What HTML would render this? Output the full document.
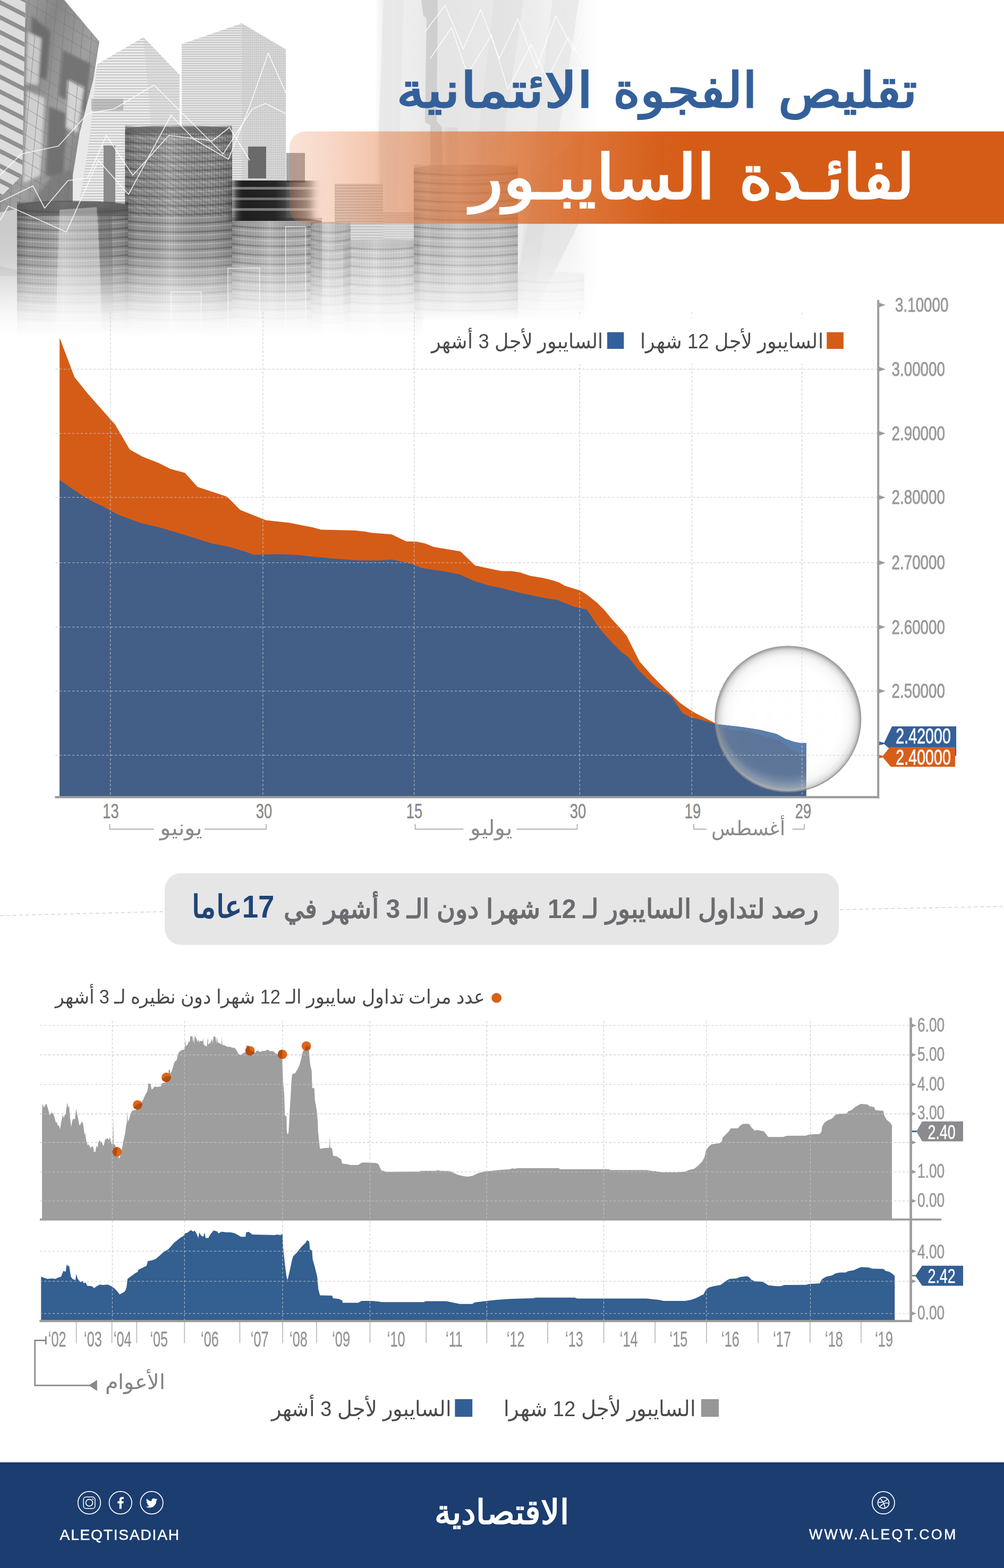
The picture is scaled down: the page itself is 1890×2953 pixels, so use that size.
<!DOCTYPE html>
<html lang="ar"><head><meta charset="utf-8"><title>تقليص الفجوة الائتمانية لفائدة السايبور</title>
<style>html,body{margin:0;padding:0;background:#fff}body{width:1890px;height:2953px;overflow:hidden;position:relative;font-family:"Liberation Sans",sans-serif}svg{position:absolute;left:0;top:0;display:block}svg text{font-family:"Liberation Sans",sans-serif}</style></head><body>
<svg width="1890" height="2953" viewBox="0 0 1890 2953">
<defs>
<linearGradient id="cyl" x1="0" x2="1" y1="0" y2="0"><stop offset="0" stop-color="#000" stop-opacity=".34"/><stop offset=".12" stop-color="#000" stop-opacity=".08"/><stop offset=".42" stop-color="#fff" stop-opacity=".28"/><stop offset=".8" stop-color="#000" stop-opacity=".05"/><stop offset="1" stop-color="#000" stop-opacity=".30"/></linearGradient>
<pattern id="hatch" width="5" height="8" patternUnits="userSpaceOnUse"><rect width="2" height="8" fill="#222"/></pattern>
<pattern id="hstripe" width="8" height="5.2" patternUnits="userSpaceOnUse"><rect width="8" height="1.5" fill="#8a8a8a"/></pattern>
<pattern id="hstripe2" width="8" height="4.4" patternUnits="userSpaceOnUse"><rect width="8" height="1.3" fill="#858585"/></pattern>
<pattern id="vfine" width="3.6" height="8" patternUnits="userSpaceOnUse"><rect width="1" height="8" fill="#999"/></pattern>
<pattern id="glassgrid" width="17" height="25" patternUnits="userSpaceOnUse" patternTransform="skewY(26) rotate(5)"><path d="M0 0 H17 M0 0 V25" stroke="#6f6f6f" stroke-width="1.4" fill="none"/></pattern>
<pattern id="louver" width="60" height="28" patternUnits="userSpaceOnUse" patternTransform="skewY(27)"><rect width="60" height="9" fill="#8c8c8c"/></pattern>
<pattern id="diag" width="9" height="9" patternUnits="userSpaceOnUse" patternTransform="rotate(28)"><rect width="9" height="2.2" fill="#3c3c3c"/></pattern>
<linearGradient id="fadeV" x1="0" x2="0" y1="0" y2="640" gradientUnits="userSpaceOnUse"><stop offset="0" stop-color="#fff"/><stop offset=".68" stop-color="#fff"/><stop offset=".75" stop-color="#fff" stop-opacity=".9"/><stop offset=".8125" stop-color="#fff" stop-opacity=".66"/><stop offset=".853" stop-color="#fff" stop-opacity=".46"/><stop offset=".89" stop-color="#fff" stop-opacity=".28"/><stop offset=".922" stop-color="#fff" stop-opacity=".15"/><stop offset=".955" stop-color="#fff" stop-opacity=".06"/><stop offset=".99" stop-color="#fff" stop-opacity="0"/></linearGradient>
<mask id="mPhoto" maskUnits="userSpaceOnUse" x="0" y="0" width="1200" height="660"><rect x="0" y="0" width="1200" height="650" fill="url(#fadeV)"/></mask>
<linearGradient id="towerH" x1="0" x2="1" y1="0" y2="0"><stop offset="0" stop-color="#efefef" stop-opacity="0"/><stop offset=".04" stop-color="#f0f0f0" stop-opacity=".95"/><stop offset=".2" stop-color="#ebebeb"/><stop offset=".3" stop-color="#e4e4e4"/><stop offset=".5" stop-color="#e8e8e8"/><stop offset=".7" stop-color="#ebebeb" stop-opacity=".9"/><stop offset=".88" stop-color="#f0f0f0" stop-opacity=".7"/><stop offset="1" stop-color="#f6f6f6" stop-opacity="0"/></linearGradient>
<linearGradient id="glass" x1="0" x2="1" y1="0" y2="1"><stop offset="0" stop-color="#acacac"/><stop offset=".3" stop-color="#868686"/><stop offset=".55" stop-color="#a0a0a0"/><stop offset=".8" stop-color="#828282"/><stop offset="1" stop-color="#989898"/></linearGradient>
<linearGradient id="bandH" x1="430" x2="625" y1="0" y2="0" gradientUnits="userSpaceOnUse"><stop offset="0" stop-color="#fff"/><stop offset=".45" stop-color="#fff" stop-opacity=".95"/><stop offset=".72" stop-color="#fff" stop-opacity=".55"/><stop offset="1" stop-color="#fff" stop-opacity=".2"/></linearGradient>
<mask id="mBand" maskUnits="userSpaceOnUse" x="400" y="320" width="260" height="120"><rect x="400" y="320" width="260" height="120" fill="url(#bandH)"/></mask>
<filter id="blurX" x="-20%" y="-10%" width="140%" height="120%"><feGaussianBlur stdDeviation="8 0.7"/></filter>
<filter id="b2" x="-10%" y="-10%" width="120%" height="120%"><feGaussianBlur stdDeviation="2.5"/></filter>
</defs>
<g id="photo" mask="url(#mPhoto)">
<rect x="705" y="0" width="425" height="640" fill="url(#towerH)"/>
<g opacity=".7"><path d="M793 0 L797 30 L803 34 L800 230 L810 236 L812 600 H838 L832 240 L822 228 L824 0Z" fill="#c6c6c6"/><path d="M838 240 L845 600 H870 L862 240Z" fill="#d8d8d8"/></g>
<path d="M713 240 L722 0 H760 L742 620 H716Z" fill="#e6e6e6" opacity=".7"/>
<path d="M930 0 L860 600 H900 L985 0Z" fill="#dedede" opacity=".5"/><path d="M1040 0 L965 590 H1000 L1090 0Z" fill="#e2e2e2" opacity=".55"/><path d="M1010 330 L1100 250 L1090 420 L1000 600 H960Z" fill="#d4d4d4" opacity=".45"/>
<g stroke="#fff" stroke-width="1.5" fill="none" opacity=".9"><path d="M800 60 L838 10 L872 92 L905 18 L940 110 L975 36 L1010 128 L1046 30 L1080 96 L1110 20"/><path d="M810 110 L850 52 L880 140 L925 66 L956 168 L1000 84 L1030 150 L1070 70 L1105 130"/></g>
<path d="M0 0 H121 L187 78 L137 400 L0 417 Z" fill="url(#glass)"/>
<g filter="url(#b2)" opacity=".9"><path d="M60 30 L95 60 L88 150 L56 140Z" fill="#6a6a6a"/><path d="M118 95 L170 120 L160 210 L110 180Z" fill="#707070"/><path d="M50 170 L84 185 L76 330 L44 345Z" fill="#d6d6d6"/><path d="M92 200 L128 215 L118 335 L86 330Z" fill="#6e6e6e"/><path d="M128 150 L158 165 L146 250 L124 240Z" fill="#dadada"/><path d="M52 60 L78 72 L72 160 L48 158Z" fill="#d0d0d0"/><path d="M100 330 L136 320 L132 395 L40 405Z" fill="#7c7c7c"/></g>
<path d="M0 0 H121 L187 78 L137 400 L0 417 Z" fill="url(#glassgrid)" opacity=".8"/>
<path d="M0 0 H48 L42 330 L0 372Z" fill="#dcdcdc"/><path d="M0 0 H48 L42 330 L0 372Z" fill="url(#louver)" opacity=".95"/>
<path d="M0 400 L40 392 L36 640 L0 640Z" fill="#cbcbcb"/><path d="M0 500 A60 12 0 0 0 36 508 L36 520 L0 520Z" fill="#b5b5b5" opacity=".7"/><path d="M137 330 L150 250 L183 121 L183 400 H137Z" fill="#e9e9e9"/>
<path d="M183 121 L270 70 L338 141 V405 H146 L170 250Z" fill="#ebebeb"/><path d="M183 121 L270 70 L338 141 V405 H146 L170 250Z" fill="url(#hstripe)" opacity=".5"/>
<path d="M270 70 L338 141 V405 H300 Z" fill="#cfcfcf" opacity=".5"/>
<rect x="195" y="274" width="22" height="130" fill="#8a8a8a"/><rect x="172" y="186" width="60" height="22" fill="#9a9a9a" opacity=".55"/>
<path d="M342 83 L455 44 L538 93 V420 H342Z" fill="#e6e6e6"/><path d="M342 83 L455 44 L538 93 V420 H342Z" fill="url(#hstripe2)" opacity=".5"/>
<path d="M455 44 L538 93 V420 H455Z" fill="#d4d4d4" opacity=".6"/><path d="M455 44 L538 93 V420 H455Z" fill="url(#vfine)" opacity=".3"/>
<rect x="467" y="276" width="34" height="60" fill="#6a6a6a"/><rect x="539" y="288" width="35" height="56" fill="#a6a6a6"/>
<path d="M630 346 H721 V470 H630Z" fill="#dcdcdc"/><path d="M630 346 H721 V470 H630Z" fill="url(#hstripe)" opacity=".45"/><path d="M721 400 H790 V470 H721Z" fill="#d9d9d9" opacity=".85"/><path d="M721 400 H790 V470 H721Z" fill="url(#hstripe2)" opacity=".3"/>
<g opacity="0.94"><path d="M235.5 244 A100.8 8 0 0 1 437 244 V640 H235.5 Z" fill="#979797"/><path d="M235.5 251.1 Q336.2 260.3 437 251.1M235.5 267.6 Q336.2 276.8 437 267.6M235.5 284.1 Q336.2 293.3 437 284.1M235.5 300.6 Q336.2 309.8 437 300.6M235.5 317.1 Q336.2 326.3 437 317.1M235.5 333.6 Q336.2 342.8 437 333.6M235.5 350.1 Q336.2 359.3 437 350.1M235.5 366.6 Q336.2 375.8 437 366.6M235.5 383.1 Q336.2 392.3 437 383.1M235.5 399.6 Q336.2 408.8 437 399.6M235.5 416.1 Q336.2 425.3 437 416.1M235.5 432.6 Q336.2 441.8 437 432.6M235.5 449.1 Q336.2 458.3 437 449.1M235.5 465.6 Q336.2 474.8 437 465.6M235.5 482.1 Q336.2 491.3 437 482.1M235.5 498.6 Q336.2 507.8 437 498.6M235.5 515.1 Q336.2 524.3 437 515.1M235.5 531.6 Q336.2 540.8 437 531.6M235.5 548.1 Q336.2 557.3 437 548.1M235.5 564.6 Q336.2 573.8 437 564.6M235.5 581.1 Q336.2 590.3 437 581.1M235.5 597.6 Q336.2 606.8 437 597.6M235.5 614.1 Q336.2 623.3 437 614.1M235.5 630.6 Q336.2 639.8 437 630.6" stroke="#5a5a5a" stroke-width="3.4" fill="none" opacity="0.62"/><path d="M235.5 257.6 Q336.2 266.8 437 257.6M235.5 274.1 Q336.2 283.3 437 274.1M235.5 290.6 Q336.2 299.8 437 290.6M235.5 307.1 Q336.2 316.3 437 307.1M235.5 323.6 Q336.2 332.8 437 323.6M235.5 340.1 Q336.2 349.3 437 340.1M235.5 356.6 Q336.2 365.8 437 356.6M235.5 373.1 Q336.2 382.3 437 373.1M235.5 389.6 Q336.2 398.8 437 389.6M235.5 406.1 Q336.2 415.3 437 406.1M235.5 422.6 Q336.2 431.8 437 422.6M235.5 439.1 Q336.2 448.3 437 439.1M235.5 455.6 Q336.2 464.8 437 455.6M235.5 472.1 Q336.2 481.3 437 472.1M235.5 488.6 Q336.2 497.8 437 488.6M235.5 505.1 Q336.2 514.3 437 505.1M235.5 521.6 Q336.2 530.8 437 521.6M235.5 538.1 Q336.2 547.3 437 538.1M235.5 554.6 Q336.2 563.8 437 554.6M235.5 571.1 Q336.2 580.3 437 571.1M235.5 587.6 Q336.2 596.8 437 587.6M235.5 604.1 Q336.2 613.3 437 604.1M235.5 620.6 Q336.2 629.8 437 620.6M235.5 637.1 Q336.2 646.3 437 637.1" stroke="#fff" stroke-width="2.2" fill="none" opacity=".30"/><rect x="235.5" y="236" width="201.5" height="404" fill="url(#cyl)" opacity="0.8"/><rect x="235.5" y="244" width="201.5" height="396" fill="url(#hatch)" opacity="0.1"/></g>
<rect x="236" y="240" width="200" height="168" fill="url(#diag)" opacity=".2"/><rect x="236" y="240" width="200" height="168" fill="url(#hatch)" opacity=".1"/><rect x="236" y="239" width="200" height="12" fill="#555" opacity=".55"/>
<g opacity="0.94"><path d="M32 388 A104.5 8 0 0 1 241 388 V640 H32 Z" fill="#979797"/><path d="M32 395.4 Q136.5 404.6 241 395.4M32 412.4 Q136.5 421.6 241 412.4M32 429.4 Q136.5 438.6 241 429.4M32 446.4 Q136.5 455.6 241 446.4M32 463.4 Q136.5 472.6 241 463.4M32 480.4 Q136.5 489.6 241 480.4M32 497.4 Q136.5 506.6 241 497.4M32 514.4 Q136.5 523.6 241 514.4M32 531.4 Q136.5 540.6 241 531.4M32 548.4 Q136.5 557.6 241 548.4M32 565.4 Q136.5 574.6 241 565.4M32 582.4 Q136.5 591.6 241 582.4M32 599.4 Q136.5 608.6 241 599.4M32 616.4 Q136.5 625.6 241 616.4M32 633.4 Q136.5 642.6 241 633.4" stroke="#5a5a5a" stroke-width="3.4" fill="none" opacity="0.62"/><path d="M32 401.9 Q136.5 411.1 241 401.9M32 418.9 Q136.5 428.1 241 418.9M32 435.9 Q136.5 445.1 241 435.9M32 452.9 Q136.5 462.1 241 452.9M32 469.9 Q136.5 479.1 241 469.9M32 486.9 Q136.5 496.1 241 486.9M32 503.9 Q136.5 513.1 241 503.9M32 520.9 Q136.5 530.1 241 520.9M32 537.9 Q136.5 547.1 241 537.9M32 554.9 Q136.5 564.1 241 554.9M32 571.9 Q136.5 581.1 241 571.9M32 588.9 Q136.5 598.1 241 588.9M32 605.9 Q136.5 615.1 241 605.9M32 622.9 Q136.5 632.1 241 622.9M32 639.9 Q136.5 649.1 241 639.9" stroke="#fff" stroke-width="2.2" fill="none" opacity=".30"/><rect x="32" y="380" width="209" height="260" fill="url(#cyl)" opacity="0.8"/><rect x="32" y="388" width="209" height="252" fill="url(#hatch)" opacity="0.1"/></g>
<path d="M32 386 A105 9 0 0 1 241 386 V407 H32Z" fill="#4a4a4a" opacity=".62"/><path d="M112 395 L182 390 L196 640 H104Z" fill="#e4e4e4" opacity=".42"/><path d="M186 392 H210 L214 620 H190Z" fill="#555" opacity=".4"/>
<g opacity="0.93"><path d="M437 418 A84.5 8 0 0 1 606 418 V640 H437 Z" fill="#a4a4a4"/><path d="M437 425.4 Q521.5 434.6 606 425.4M437 442.4 Q521.5 451.6 606 442.4M437 459.4 Q521.5 468.6 606 459.4M437 476.4 Q521.5 485.6 606 476.4M437 493.4 Q521.5 502.6 606 493.4M437 510.4 Q521.5 519.6 606 510.4M437 527.4 Q521.5 536.6 606 527.4M437 544.4 Q521.5 553.6 606 544.4M437 561.4 Q521.5 570.6 606 561.4M437 578.4 Q521.5 587.6 606 578.4M437 595.4 Q521.5 604.6 606 595.4M437 612.4 Q521.5 621.6 606 612.4M437 629.4 Q521.5 638.6 606 629.4" stroke="#5a5a5a" stroke-width="3.4" fill="none" opacity="0.58"/><path d="M437 431.9 Q521.5 441.1 606 431.9M437 448.9 Q521.5 458.1 606 448.9M437 465.9 Q521.5 475.1 606 465.9M437 482.9 Q521.5 492.1 606 482.9M437 499.9 Q521.5 509.1 606 499.9M437 516.9 Q521.5 526.1 606 516.9M437 533.9 Q521.5 543.1 606 533.9M437 550.9 Q521.5 560.1 606 550.9M437 567.9 Q521.5 577.1 606 567.9M437 584.9 Q521.5 594.1 606 584.9M437 601.9 Q521.5 611.1 606 601.9M437 618.9 Q521.5 628.1 606 618.9M437 635.9 Q521.5 645.1 606 635.9" stroke="#fff" stroke-width="2.2" fill="none" opacity=".30"/><rect x="437" y="410" width="169" height="230" fill="url(#cyl)" opacity="0.7"/><rect x="437" y="418" width="169" height="222" fill="url(#hatch)" opacity="0.08"/></g>
<g filter="url(#blurX)" mask="url(#mBand)"><rect x="440" y="340" width="150" height="76" fill="#1f1f1f"/><rect x="440" y="352" width="150" height="5" fill="#777"/><rect x="440" y="372" width="150" height="5" fill="#6a6a6a"/><rect x="440" y="392" width="150" height="5" fill="#777"/></g>
<g opacity="0.85"><path d="M646.5 458 A71.8 8 0 0 1 790 458 V640 H646.5 Z" fill="#c4c4c4"/><path d="M646.5 465.4 Q718.2 474.6 790 465.4M646.5 482.4 Q718.2 491.6 790 482.4M646.5 499.4 Q718.2 508.6 790 499.4M646.5 516.4 Q718.2 525.6 790 516.4M646.5 533.4 Q718.2 542.6 790 533.4M646.5 550.4 Q718.2 559.6 790 550.4M646.5 567.4 Q718.2 576.6 790 567.4M646.5 584.4 Q718.2 593.6 790 584.4M646.5 601.4 Q718.2 610.6 790 601.4M646.5 618.4 Q718.2 627.6 790 618.4M646.5 635.4 Q718.2 644.6 790 635.4" stroke="#808080" stroke-width="3.4" fill="none" opacity="0.5"/><path d="M646.5 471.9 Q718.2 481.1 790 471.9M646.5 488.9 Q718.2 498.1 790 488.9M646.5 505.9 Q718.2 515.1 790 505.9M646.5 522.9 Q718.2 532.1 790 522.9M646.5 539.9 Q718.2 549.1 790 539.9M646.5 556.9 Q718.2 566.1 790 556.9M646.5 573.9 Q718.2 583.1 790 573.9M646.5 590.9 Q718.2 600.1 790 590.9M646.5 607.9 Q718.2 617.1 790 607.9M646.5 624.9 Q718.2 634.1 790 624.9M646.5 641.9 Q718.2 651.1 790 641.9" stroke="#fff" stroke-width="2.2" fill="none" opacity=".30"/><rect x="646.5" y="450" width="143.5" height="190" fill="url(#cyl)" opacity="0.5"/><rect x="646.5" y="458" width="143.5" height="182" fill="url(#hatch)" opacity="0.06"/></g>
<g opacity="0.8"><path d="M779 318 A98 8 0 0 1 975 318 V640 H779 Z" fill="#c0c0c0"/><path d="M779 325.4 Q877 334.6 975 325.4M779 342.4 Q877 351.6 975 342.4M779 359.4 Q877 368.6 975 359.4M779 376.4 Q877 385.6 975 376.4M779 393.4 Q877 402.6 975 393.4M779 410.4 Q877 419.6 975 410.4M779 427.4 Q877 436.6 975 427.4M779 444.4 Q877 453.6 975 444.4M779 461.4 Q877 470.6 975 461.4M779 478.4 Q877 487.6 975 478.4M779 495.4 Q877 504.6 975 495.4M779 512.4 Q877 521.6 975 512.4M779 529.4 Q877 538.6 975 529.4M779 546.4 Q877 555.6 975 546.4M779 563.4 Q877 572.6 975 563.4M779 580.4 Q877 589.6 975 580.4M779 597.4 Q877 606.6 975 597.4M779 614.4 Q877 623.6 975 614.4M779 631.4 Q877 640.6 975 631.4" stroke="#707070" stroke-width="3.4" fill="none" opacity="0.5"/><path d="M779 331.9 Q877 341.1 975 331.9M779 348.9 Q877 358.1 975 348.9M779 365.9 Q877 375.1 975 365.9M779 382.9 Q877 392.1 975 382.9M779 399.9 Q877 409.1 975 399.9M779 416.9 Q877 426.1 975 416.9M779 433.9 Q877 443.1 975 433.9M779 450.9 Q877 460.1 975 450.9M779 467.9 Q877 477.1 975 467.9M779 484.9 Q877 494.1 975 484.9M779 501.9 Q877 511.1 975 501.9M779 518.9 Q877 528.1 975 518.9M779 535.9 Q877 545.1 975 535.9M779 552.9 Q877 562.1 975 552.9M779 569.9 Q877 579.1 975 569.9M779 586.9 Q877 596.1 975 586.9M779 603.9 Q877 613.1 975 603.9M779 620.9 Q877 630.1 975 620.9M779 637.9 Q877 647.1 975 637.9" stroke="#fff" stroke-width="2.2" fill="none" opacity=".30"/><rect x="779" y="310" width="196" height="330" fill="url(#cyl)" opacity="0.55"/><rect x="779" y="318" width="196" height="322" fill="url(#hatch)" opacity="0.06"/></g>
<g opacity="0.8"><path d="M585 426 A37.5 8 0 0 1 660 426 V640 H585 Z" fill="#bcbcbc"/><path d="M585 433.4 Q622.5 442.6 660 433.4M585 450.4 Q622.5 459.6 660 450.4M585 467.4 Q622.5 476.6 660 467.4M585 484.4 Q622.5 493.6 660 484.4M585 501.4 Q622.5 510.6 660 501.4M585 518.4 Q622.5 527.6 660 518.4M585 535.4 Q622.5 544.6 660 535.4M585 552.4 Q622.5 561.6 660 552.4M585 569.4 Q622.5 578.6 660 569.4M585 586.4 Q622.5 595.6 660 586.4M585 603.4 Q622.5 612.6 660 603.4M585 620.4 Q622.5 629.6 660 620.4M585 637.4 Q622.5 646.6 660 637.4" stroke="#808080" stroke-width="3.4" fill="none" opacity="0.5"/><path d="M585 439.9 Q622.5 449.1 660 439.9M585 456.9 Q622.5 466.1 660 456.9M585 473.9 Q622.5 483.1 660 473.9M585 490.9 Q622.5 500.1 660 490.9M585 507.9 Q622.5 517.1 660 507.9M585 524.9 Q622.5 534.1 660 524.9M585 541.9 Q622.5 551.1 660 541.9M585 558.9 Q622.5 568.1 660 558.9M585 575.9 Q622.5 585.1 660 575.9M585 592.9 Q622.5 602.1 660 592.9M585 609.9 Q622.5 619.1 660 609.9M585 626.9 Q622.5 636.1 660 626.9M585 643.9 Q622.5 653.1 660 643.9" stroke="#fff" stroke-width="2.2" fill="none" opacity=".30"/><rect x="585" y="418" width="75" height="222" fill="url(#cyl)" opacity="0.45"/><rect x="585" y="426" width="75" height="214" fill="url(#hatch)" opacity="0.05"/></g>
<g opacity="0.4"><path d="M975 520 A62.5 8 0 0 1 1100 520 V640 H975 Z" fill="#e2e2e2"/><path d="M975 527.4 Q1037.5 536.6 1100 527.4M975 544.4 Q1037.5 553.6 1100 544.4M975 561.4 Q1037.5 570.6 1100 561.4M975 578.4 Q1037.5 587.6 1100 578.4M975 595.4 Q1037.5 604.6 1100 595.4M975 612.4 Q1037.5 621.6 1100 612.4M975 629.4 Q1037.5 638.6 1100 629.4" stroke="#b0b0b0" stroke-width="3.4" fill="none" opacity="0.5"/><path d="M975 533.9 Q1037.5 543.1 1100 533.9M975 550.9 Q1037.5 560.1 1100 550.9M975 567.9 Q1037.5 577.1 1100 567.9M975 584.9 Q1037.5 594.1 1100 584.9M975 601.9 Q1037.5 611.1 1100 601.9M975 618.9 Q1037.5 628.1 1100 618.9M975 635.9 Q1037.5 645.1 1100 635.9" stroke="#fff" stroke-width="2.2" fill="none" opacity=".30"/><rect x="975" y="512" width="125" height="128" fill="url(#cyl)" opacity="0.3"/></g>
<g stroke="#fff" stroke-width="1.3" fill="#fff" fill-opacity=".14" opacity=".8"><rect x="322" y="550" width="57" height="100"/><rect x="429" y="505" width="60" height="150"/><rect x="537.5" y="427" width="38" height="230"/></g>
<g stroke="#fff" stroke-width="1.7" fill="none" stroke-linejoin="round" opacity=".85"><path d="M0 415 L16 388 L125 437 L185 302 L242 366 L322 217 L365 262 L430 300 L470 200 L505 100 L538 175"/><path d="M0 330 L40 290 L110 275 L165 214 L215 205 L290 160 L330 200 L420 290 L475 205 L500 195 L540 215"/><path d="M0 380 L62 350 L84 392 L128 340 L165 335 L200 255 L250 330 L318 255 L400 265 L432 240 L470 302"/></g>
</g>
<defs><linearGradient id="ban" x1="545" x2="1300" y1="0" y2="0" gradientUnits="userSpaceOnUse"><stop offset="0" stop-color="#E8763A" stop-opacity=".20"/><stop offset=".12" stop-color="#E67A40" stop-opacity=".32"/><stop offset=".40" stop-color="#DD6E30" stop-opacity=".62"/><stop offset=".70" stop-color="#D9631F" stop-opacity=".86"/><stop offset=".92" stop-color="#D55C17" stop-opacity=".98"/><stop offset="1" stop-color="#D55C17"/></linearGradient></defs>
<path d="M575 247.5 H1890 V421.5 H575 A30 30 0 0 1 545 391.5 V277.5 A30 30 0 0 1 575 247.5Z" fill="url(#ban)"/>
<text x="1596" y="202.2" font-size="92" font-weight="700" fill="#34609A" text-anchor="middle" direction="rtl" textLength="263" lengthAdjust="spacingAndGlyphs">تقليص</text>
<text x="1289.6" y="202.2" font-size="92" font-weight="700" fill="#34609A" text-anchor="middle" direction="rtl" textLength="272" lengthAdjust="spacingAndGlyphs">الفجوة</text>
<text x="931.1" y="202.2" font-size="92" font-weight="700" fill="#34609A" text-anchor="middle" direction="rtl" textLength="371" lengthAdjust="spacingAndGlyphs">الائتمانية</text>
<text x="1556.4" y="374.3" font-size="116" font-weight="700" fill="#fff" text-anchor="middle" direction="rtl" textLength="331" lengthAdjust="spacingAndGlyphs">لفائـدة</text>
<text x="1115.7" y="374.3" font-size="116" font-weight="700" fill="#fff" text-anchor="middle" direction="rtl" textLength="460" lengthAdjust="spacingAndGlyphs">السايبـور</text>
<g id="chart1">
<polygon fill="#D55C17" points="112.2,636.2 140.3,710.3 164.7,740.8 216.6,799.5 244.2,846.6 268.6,860.3 297.8,871.6 320.5,883 348.1,890.5 371.8,917.1 427.7,935.6 452,960.3 500.7,979.7 544.5,984.6 590,993.4 603.8,997.4 667.1,999 688.2,1001.3 699.6,1003.6 736.9,1006.2 764.5,1019.5 784,1020.1 800.3,1023.4 816.5,1029.9 866.8,1038.6 894.4,1064.9 926.9,1072.1 944.7,1075.6 962.6,1075.6 978.8,1077.9 998.3,1084.4 1021,1088.3 1040.5,1092.9 1051.9,1096.8 1060,1101.3 1062.7,1103.1 1079,1107.9 1093.6,1112.8 1104.9,1119.9 1124.4,1135.5 1137.4,1148.5 1153.6,1168 1166.6,1181.9 1179.6,1197.2 1192.6,1223.2 1204,1245.9 1228.3,1273.5 1247.8,1293 1264,1308.6 1280.3,1323.8 1296.5,1335.2 1309.5,1343.3 1325.7,1351.4 1345.2,1361.2 1346.8,1363.4 1376.8,1499.5 112.2,1499.5"/>
<polygon fill="#435F88" points="112.2,904.1 135.5,920.3 154.9,933.3 177.7,946.3 193.9,953.8 219.9,968.1 242.6,977.1 268.6,985.9 297.8,992.4 349.7,1008 401.7,1024.2 430.9,1029.7 456.9,1037.2 478,1044.7 528.3,1043.7 560.8,1045.3 590,1048.6 634.7,1052.6 673.6,1055.2 712.6,1055.5 738.6,1053.9 774.3,1061.4 793.8,1069.8 839.2,1076.6 865.2,1081.8 891.2,1093.8 920.4,1102.6 946.4,1108.1 978.8,1116.6 1014.5,1124 1030.8,1127.3 1050.3,1129.9 1060,1134.4 1082.2,1143 1104.9,1147.9 1124.4,1177.7 1137.4,1194 1153.6,1211.8 1169.9,1228.1 1182.9,1237.8 1202.3,1262.1 1218.6,1278.4 1234.8,1293 1247.8,1301.1 1264,1311.8 1285.1,1343.3 1299.7,1350.8 1319.2,1355.6 1346.8,1363.4 1397.1,1369.3 1429.6,1374.2 1462.1,1382.3 1478.3,1391.4 1494.5,1396.9 1507.5,1399.5 1517.9,1399.2 1517.9,1500.5 112.2,1500.5"/>
<polygon fill="#41699F" points="1346.8,1363.4 1397.1,1369.3 1429.6,1374.2 1462.1,1382.3 1478.3,1391.4 1494.5,1396.9 1507.5,1399.5 1517.9,1399.2 1517.9,1418 1509.2,1419.6 1494.5,1414.7 1484.8,1408.2 1468.6,1395.3 1439.4,1387.1 1413.4,1379 1397.1,1375.8 1377.7,1375.8 1346.8,1363.4"/>
<g stroke="#c6c6c6" stroke-width="1.05" stroke-dasharray="4.4 3.6" opacity=".95" fill="none">
<path d="M104 695.2 H1651"/>
<path d="M104 816.2 H1651"/>
<path d="M104 936.7 H1651"/>
<path d="M104 1059.8 H1651"/>
<path d="M104 1180.9 H1651"/>
<path d="M104 1301.4 H1651"/>
<path d="M104 1422.2 H1651"/>
<path d="M207.9 588 V1499"/>
<path d="M494.9 588 V1499"/>
<path d="M779.8 588 V1499"/>
<path d="M1091.3 588 V1499"/>
<path d="M1302.3 588 V1499"/>
<path d="M1509.8 588 V1499"/>
</g>
<defs><linearGradient id="lgbox" x1="0" x2="0" y1="586" y2="606" gradientUnits="userSpaceOnUse"><stop offset="0" stop-color="#fff" stop-opacity="0"/><stop offset="1" stop-color="#fff"/></linearGradient></defs><rect x="796" y="586" width="806" height="22" fill="url(#lgbox)"/><rect x="796" y="606" width="806" height="79" fill="#fff"/>
<defs><radialGradient id="lens" cx="50%" cy="50%" r="50%"><stop offset="0" stop-color="#fff" stop-opacity=".14"/><stop offset=".70" stop-color="#fff" stop-opacity=".14"/><stop offset=".86" stop-color="#d8d8d8" stop-opacity=".2"/><stop offset=".94" stop-color="#a8a8a8" stop-opacity=".4"/><stop offset=".985" stop-color="#8c8c8c" stop-opacity=".8"/><stop offset="1" stop-color="#8a8a8a" stop-opacity=".9"/></radialGradient></defs>
<defs><radialGradient id="lens2" cx="50%" cy="40%" r="61%"><stop offset="0" stop-color="#fff" stop-opacity="0"/><stop offset=".8" stop-color="#fff" stop-opacity="0"/><stop offset=".93" stop-color="#fff" stop-opacity=".22"/><stop offset="1" stop-color="#fff" stop-opacity=".42"/></radialGradient></defs>
<circle cx="1483.4" cy="1354.2" r="138" fill="url(#lens)"/><circle cx="1483.4" cy="1354.2" r="135.5" fill="url(#lens2)"/>
<rect x="1651.2" y="565" width="4" height="938.5" fill="#9c9c9c"/>
<rect x="103.5" y="1499.2" width="1551.7" height="4.2" fill="#9c9c9c"/>
<path d="M1655 691 l12 4.2 l-12 4.2z" fill="#9c9c9c"/>
<path d="M1655 812 l12 4.2 l-12 4.2z" fill="#9c9c9c"/>
<path d="M1655 932.5 l12 4.2 l-12 4.2z" fill="#9c9c9c"/>
<path d="M1655 1055.6 l12 4.2 l-12 4.2z" fill="#9c9c9c"/>
<path d="M1655 1176.7 l12 4.2 l-12 4.2z" fill="#9c9c9c"/>
<path d="M1655 1297.2 l12 4.2 l-12 4.2z" fill="#9c9c9c"/>
<path d="M1655 570 l12 4.2 l-12 4.2z" fill="#9c9c9c"/>
<text transform="translate(1678.5,707.8) scale(0.742,1)" font-size="37.5" fill="#9a9a9a" stroke="#9a9a9a" stroke-width="0.9" text-anchor="start" font-weight="400" letter-spacing="0">3.00000</text>
<text transform="translate(1678.5,828.8) scale(0.742,1)" font-size="37.5" fill="#9a9a9a" stroke="#9a9a9a" stroke-width="0.9" text-anchor="start" font-weight="400" letter-spacing="0">2.90000</text>
<text transform="translate(1678.5,949.3) scale(0.742,1)" font-size="37.5" fill="#9a9a9a" stroke="#9a9a9a" stroke-width="0.9" text-anchor="start" font-weight="400" letter-spacing="0">2.80000</text>
<text transform="translate(1678.5,1072.4) scale(0.742,1)" font-size="37.5" fill="#9a9a9a" stroke="#9a9a9a" stroke-width="0.9" text-anchor="start" font-weight="400" letter-spacing="0">2.70000</text>
<text transform="translate(1678.5,1193.5) scale(0.742,1)" font-size="37.5" fill="#9a9a9a" stroke="#9a9a9a" stroke-width="0.9" text-anchor="start" font-weight="400" letter-spacing="0">2.60000</text>
<text transform="translate(1678.5,1314) scale(0.742,1)" font-size="37.5" fill="#9a9a9a" stroke="#9a9a9a" stroke-width="0.9" text-anchor="start" font-weight="400" letter-spacing="0">2.50000</text>
<text transform="translate(1685,586.8) scale(0.742,1)" font-size="37.5" fill="#9a9a9a" stroke="#9a9a9a" stroke-width="0.9" text-anchor="start" font-weight="400" letter-spacing="0">3.10000</text>
<path fill="#34609A" d="M1679.2 1368.1 H1800.1 V1423.6 H1690 L1664.3 1401.2 L1655.2 1403.4 V1396.6 L1664.3 1399 Z"/>
<path fill="#D85E18" d="M1675.1 1406.9 H1798 V1443.9 H1676.8 L1661.9 1426.2 L1655.2 1427.9 V1421.7 L1661.9 1423.6 Z"/>
<text transform="translate(1686.3,1400.2) scale(0.708,1)" font-size="40.5" fill="#fff" stroke="#fff" stroke-width="0.75" text-anchor="start" font-weight="400" letter-spacing="0">2.42000</text>
<text transform="translate(1686.3,1440) scale(0.708,1)" font-size="40.5" fill="#fff" stroke="#fff" stroke-width="0.75" text-anchor="start" font-weight="400" letter-spacing="0">2.40000</text>
<text transform="translate(208.5,1541) scale(0.7,1)" font-size="39" fill="#8a8a8a" stroke="#8a8a8a" stroke-width="0.55" text-anchor="middle" font-weight="400" letter-spacing="0">13</text>
<text transform="translate(497,1541) scale(0.7,1)" font-size="39" fill="#8a8a8a" stroke="#8a8a8a" stroke-width="0.55" text-anchor="middle" font-weight="400" letter-spacing="0">30</text>
<text transform="translate(780,1541) scale(0.7,1)" font-size="39" fill="#8a8a8a" stroke="#8a8a8a" stroke-width="0.55" text-anchor="middle" font-weight="400" letter-spacing="0">15</text>
<text transform="translate(1088,1541) scale(0.7,1)" font-size="39" fill="#8a8a8a" stroke="#8a8a8a" stroke-width="0.55" text-anchor="middle" font-weight="400" letter-spacing="0">30</text>
<text transform="translate(1304,1541) scale(0.7,1)" font-size="39" fill="#8a8a8a" stroke="#8a8a8a" stroke-width="0.55" text-anchor="middle" font-weight="400" letter-spacing="0">19</text>
<text transform="translate(1512,1541) scale(0.7,1)" font-size="39" fill="#8a8a8a" stroke="#8a8a8a" stroke-width="0.55" text-anchor="middle" font-weight="400" letter-spacing="0">29</text>
<g stroke="#9a9a9a" stroke-width="1.4" fill="none">
<path d="M206.5 1552 V1561.5 H290 M385 1561.5 H501 V1552"/>
<path d="M781.5 1552 V1561.5 H872.5 M972.5 1561.5 H1086.5 V1552"/>
<path d="M1306 1552 V1561.5 H1330 M1491.5 1561.5 H1514 V1552"/>
</g>
<rect x="1556.3" y="625.6" width="31.6" height="31.4" fill="#D55C17"/><rect x="1143" y="625.6" width="31.4" height="31.4" fill="#34609A"/>
<text x="1377.5" y="655.6" font-size="39" fill="#4a4a4a" text-anchor="middle" direction="rtl" textLength="345" lengthAdjust="spacingAndGlyphs">السايبور لأجل 12 شهرا</text>
<text x="973.8" y="655.6" font-size="39" fill="#4a4a4a" text-anchor="middle" direction="rtl" textLength="324" lengthAdjust="spacingAndGlyphs">السايبور لأجل 3 أشهر</text>
<text x="341" y="1573" font-size="40" fill="#8a8a8a" text-anchor="middle" direction="rtl" textLength="80" lengthAdjust="spacingAndGlyphs">يونيو</text>
<text x="924.5" y="1573" font-size="40" fill="#8a8a8a" text-anchor="middle" direction="rtl" textLength="79" lengthAdjust="spacingAndGlyphs">يوليو</text>
<text x="1408.8" y="1573" font-size="38" fill="#8a8a8a" text-anchor="middle" direction="rtl" textLength="139" lengthAdjust="spacingAndGlyphs">أغسطس</text>
</g>
<g id="pill">
<g stroke="#cfcfcf" stroke-width="1.3" stroke-dasharray="7 5" fill="none"><path d="M0 1724.5 L308 1716.8"/><path d="M1581 1713 L1890 1707"/></g>
<rect x="310" y="1644.5" width="1269" height="135" rx="31" fill="#E6E6E7"/>
<text x="1037.2" y="1728.5" font-size="50" font-weight="700" fill="#6B6B70" text-anchor="middle" direction="rtl" textLength="1007" lengthAdjust="spacingAndGlyphs">رصد لتداول السايبور لـ 12 شهرا دون الـ 3 أشهر في</text>
<text x="438.5" y="1728" font-size="59" font-weight="700" fill="#1F4477" text-anchor="middle" direction="rtl" textLength="156" lengthAdjust="spacingAndGlyphs">17عاما</text>
</g>
<g id="chart2">
<polygon fill="#9E9E9E" points="79.1,2105.2 79.6,2082.4 80.5,2079.8 82.6,2085.9 84.9,2081.5 87.5,2078.5 90.2,2087.7 93.7,2100.8 95.4,2097.3 97.2,2095 99.8,2097.3 101.6,2100.8 104.2,2110.5 105.6,2114.8 106.8,2112.2 108.6,2119.2 111.2,2120.1 113,2127.1 114.7,2115.7 116.5,2106.9 118.2,2099.1 120,2106.1 121.7,2099.9 123.5,2098.2 125.2,2085.9 126.5,2076.6 128.2,2085.9 130,2082.1 131.7,2103.4 134,2122.7 135.7,2112.2 137.5,2106.9 141,2107.8 143.3,2088.5 145.4,2098.2 148,2112.2 149.8,2120.1 152.4,2115.7 153.8,2113.1 155.6,2113.6 157.1,2121 159.4,2138.5 160.3,2131.5 161.2,2140.3 162.9,2150.8 165.6,2157.8 166.4,2154.3 169.1,2159.5 170.8,2162.2 173.4,2158.7 175.2,2159.5 176.9,2169.2 179.6,2169.2 181.3,2159.5 182.6,2157.8 184,2162.2 184.8,2152.5 186.6,2149 187.8,2147.3 189.2,2150.3 191.9,2150.8 193.6,2156.9 195.4,2157.8 197.1,2149 198.9,2144.6 200.6,2145.5 202.4,2142.9 204.6,2147.3 206.8,2141.7 208.5,2149 210.3,2154.3 212.4,2154.3 213.2,2101.7 214.1,2155.2 216.4,2155.7 218.1,2160.4 220.8,2168.3 224.3,2182.3 226,2178 228.7,2168.3 230.4,2159.5 233.1,2145.5 235.7,2133.2 237.4,2119.2 238.7,2114.8 239.5,2091.2 240.4,2112.2 242.7,2108.7 245.3,2099.9 247.1,2094.7 248.8,2092 252.3,2091.2 255.8,2090.3 267.2,2075.4 269.9,2070.1 271.6,2065.7 274.3,2060.5 276.9,2056.1 278.3,2050.8 279,2039.4 280.4,2041.2 283,2040.7 284.2,2045.6 285.3,2051.7 287.4,2050.8 290,2047.3 291.8,2045.9 294.4,2047 303.2,2045.9 304.1,2041.2 306.7,2039.4 311.9,2038.6 317.2,2022.8 317.6,2014.9 319.8,2014.4 320.7,2021.9 323.3,2017.5 326,2008.8 327.7,2001.8 329.1,2000 330,1998.4 332,1997.4 335,1986.4 337,1981.3 339.1,1980.3 342.1,1977.3 347.1,1976.7 348.1,1973.3 349.5,1956.2 350.1,1970.3 353.1,1967.2 355.2,1961.2 357.2,1962.2 358.2,1951.7 362.2,1951.7 363.2,1964.2 363.8,1950.1 365.2,1966.2 366.8,1950.1 370.3,1957.2 372.3,1962.2 373.9,1957.2 375.3,1964.2 376.3,1960.2 381.3,1961.2 382.3,1954.2 383.3,1967.2 386.4,1969.3 389.4,1971.3 391.4,1951.7 392,1967.2 396.4,1963.2 399.4,1956.2 400.5,1966.2 401.9,1951.7 405.5,1952.5 407.5,1965.2 408.5,1952.1 409.9,1963.2 414.5,1965.2 417,1967.2 417.6,1952.1 418.6,1968.2 422.6,1968.6 427.6,1971.3 434.7,1971.7 436.7,1973.3 441.7,1973.3 444.7,1977.3 448.8,1984.4 451.8,1986.4 454.8,1986 458.8,1982.7 462.9,1982.3 463.5,1969.3 467.9,1968.6 468.9,1973.3 470.9,1978.9 480,1982.7 484,1978.3 488,1980.3 491,1981.3 493.1,1979.3 499.1,1979.3 502.1,1977.3 505.1,1977.3 507.1,1979.3 515.2,1979.7 517.2,1982.7 521.2,1984.8 523.2,1987.4 531.3,1996.4 531.9,2014.5 533.3,2042.7 534.9,2058.8 535.7,2079 536.3,2101.1 539.4,2102.1 539.8,2130.1 540.6,2135.3 542.6,2135.3 543.4,2130.1 544.4,2111.2 545.4,2091 547.4,2060.8 548.4,2039.7 549.8,2024.6 551.4,2022.2 555.5,2021.6 559.5,2014.5 563.5,2006.5 566.5,1996.4 568.5,1986.4 570.6,1979.3 573.6,1977.3 581.6,1977.9 582.6,1990.4 583.6,2002.5 585.2,2010.5 586.7,2016.6 587.7,2048.8 591.7,2049.8 592.7,2070.9 594.7,2082 596.7,2095.1 598.1,2111.2 598.7,2130.1 602.3,2163.6 610,2162.3 619.9,2161.4 620.7,2138.7 621.6,2161.4 625,2162.3 627.1,2176.4 633.6,2177.7 642.1,2182.9 644.3,2191.4 652.9,2192.3 659.3,2194 674.3,2194 680.7,2189.7 687.1,2189.3 700,2190.1 707.1,2190.1 712.3,2192.3 717.9,2204.3 728.6,2206.9 788.6,2206.4 792.9,2205.1 818.6,2205.1 825,2203.9 829.3,2205.1 846.4,2205.6 855,2209.4 863.6,2212.9 872.1,2215 880.7,2215.9 889.3,2214.6 900,2209.4 912.9,2206 925.7,2205.1 938.6,2203.4 960,2202.1 965.1,2200 966.9,2201.3 975,2200 1052.1,2200 1054.3,2202.1 1146.4,2202.1 1148.6,2203.4 1217.1,2203.4 1225.7,2205.1 1236.4,2206 1245,2207.7 1275,2207.7 1290,2206.4 1296.4,2203.4 1307.1,2200.9 1313.6,2195.7 1320,2189.3 1322.1,2187.1 1326.4,2178.6 1328.6,2167.9 1332.9,2160.6 1339.3,2155 1354.3,2152.9 1358.6,2149.4 1360.7,2142.1 1367.1,2135.7 1371.4,2131.4 1375.7,2125 1388.6,2125 1395,2118.6 1399.3,2116.4 1410,2116.4 1414.3,2122.9 1420.7,2129.3 1425,2128 1437.9,2130.6 1446.4,2141.3 1474.3,2141.3 1480.7,2139.1 1517.1,2138.7 1523.6,2136.6 1542.9,2135.7 1546.3,2131.4 1548,2120.7 1551.4,2115.1 1557.9,2110 1566.4,2106.6 1572.9,2099.3 1579.3,2098 1594.3,2097.1 1596.4,2092.9 1602.9,2090.7 1609.3,2085.1 1620,2079.1 1632.9,2080 1637.1,2083.4 1645.7,2085.1 1647.9,2090.7 1662.9,2092 1665,2101.4 1669.3,2109.1 1675.7,2114.3 1679.1,2119.4 1679.1,2295.5 79.1,2295.5"/>
<polygon fill="#335F91" points="77.3,2404.3 82.9,2406.4 89.3,2408.6 97.9,2407.7 104.3,2408.6 108.6,2406.4 115,2404.3 119.3,2393.6 123.6,2394.9 125.7,2380.7 127.9,2385 130,2382.9 133.4,2404.3 136.4,2408.6 142,2410.7 143.7,2399.1 146.3,2408.6 152.3,2415 154.9,2412 157.9,2417.1 160.9,2415 164.3,2421.4 172.9,2422.3 177.1,2425.7 183.6,2421.4 187.9,2419.3 194.3,2420.1 202.9,2419.3 209.3,2422.3 215.7,2426.6 222.1,2433.4 225.1,2437.7 230.7,2435.1 235,2432.1 238,2425.7 240.1,2408.6 245.7,2404.3 254.3,2397.9 259.4,2394.9 260.3,2391.4 269.3,2387.1 275.7,2384.1 278.3,2375.1 286.4,2373.4 292.9,2370.9 299.3,2365.7 307.9,2358 316.4,2352.9 320.7,2348.6 327.1,2340.9 333.6,2335.7 340,2330.6 345.1,2328 347.7,2322.9 352.9,2321.6 359.3,2316.4 363.6,2319.4 366.6,2317.7 370,2322.9 373.4,2331.4 375.1,2320.7 378.6,2327.1 382.9,2329.3 385,2320.7 387.1,2331.4 392.3,2331.4 395.7,2325 402.1,2317.3 406.4,2318.6 409.4,2319.4 411.1,2322.9 417.1,2319.4 425.7,2320.7 434.3,2320.7 442.9,2322.9 453.6,2329.3 462.1,2329.3 463.4,2320.7 468.6,2319.9 475,2325 517.9,2325.9 520,2325 528.6,2325.9 532,2322.9 532.9,2348.6 536.3,2380.7 539.3,2404.3 541.4,2410.7 545.7,2391.4 550,2372.1 552.1,2365.7 558.6,2359.3 567.1,2348.6 575.7,2340 577.9,2335.7 582.1,2337.9 583.4,2352.9 587.3,2355 588.6,2372.1 592.9,2387.1 597.1,2404.3 599.3,2427.9 602.3,2439.4 625,2439.9 627.1,2445 637.9,2446.3 644.3,2449.3 645.1,2453.6 674.3,2453.6 680.7,2450.1 700,2450.1 715.7,2451.4 717.9,2452.3 797.1,2452.3 801.4,2450.6 840,2450.6 848.6,2452.3 865.7,2455.7 889.3,2455.7 893.6,2452.7 917.1,2450.1 934.3,2448 960,2446.3 981.4,2445.4 1002.9,2445 1009.3,2443.7 1082.1,2443.7 1086.4,2445.4 1165.7,2445.4 1217.1,2445.4 1230,2447.1 1240.7,2448 1249.3,2450.1 1290,2450.1 1300.7,2448 1309.3,2445 1315.7,2442 1320,2439.4 1324.3,2437.7 1329.4,2427.9 1335,2424.4 1343.6,2422.3 1356.4,2420.1 1367.1,2412 1373.6,2408.6 1386.4,2407.7 1392.9,2405.1 1405.7,2403.4 1410,2405.1 1414.3,2409.9 1420.7,2412.9 1435.7,2414.1 1446.4,2420.6 1461.4,2422.3 1470,2422.3 1476.4,2420.1 1517.1,2419.7 1523.6,2418 1542.9,2417.1 1548,2408.6 1555.7,2404.3 1566.4,2402.1 1572.9,2397.9 1581.4,2396.6 1592.1,2396.6 1596.4,2394 1607.1,2392.3 1613.6,2389.3 1620.9,2386.3 1635,2387.1 1641.4,2389.3 1662.9,2389.7 1667.1,2393.6 1673.6,2394.9 1680,2399.1 1684.3,2403 1684.3,2487 77.3,2487"/>
<g stroke="#c6c6c6" stroke-width="1.05" stroke-dasharray="4.4 3.6" opacity=".95" fill="none">
<path d="M75 1931.3 H1712"/>
<path d="M75 1986.6 H1712"/>
<path d="M75 2042.3 H1712"/>
<path d="M75 2097.6 H1712"/>
<path d="M75 2151.6 H1712"/>
<path d="M75 2206.9 H1712"/>
<path d="M75 2261.7 H1712"/>
<path d="M75 2356.3 H1712"/>
<path d="M75 2412.9 H1712"/>
<path d="M75 2473.7 H1712"/>
<path d="M211.4 1923 V2486"/>
<path d="M347.3 1923 V2486"/>
<path d="M532 1923 V2486"/>
<path d="M696.5 1923 V2486"/>
<path d="M916.3 1923 V2486"/>
<path d="M1136.6 1923 V2486"/>
<path d="M1329.9 1923 V2486"/>
<path d="M1525.5 1923 V2486"/>
</g>
<defs><clipPath id="dotclip"><circle cx="220.4" cy="2169.1" r="8.9"/><circle cx="259" cy="2080.9" r="8.9"/><circle cx="313" cy="2029" r="8.9"/><circle cx="470.7" cy="1978.9" r="8.9"/><circle cx="531.6" cy="1985.7" r="8.9"/><circle cx="576.6" cy="1969.9" r="8.9"/></clipPath></defs>
<circle cx="220.4" cy="2169.1" r="8.9" fill="#E0651A"/>
<circle cx="259" cy="2080.9" r="8.9" fill="#E0651A"/>
<circle cx="313" cy="2029" r="8.9" fill="#E0651A"/>
<circle cx="470.7" cy="1978.9" r="8.9" fill="#E0651A"/>
<circle cx="531.6" cy="1985.7" r="8.9" fill="#E0651A"/>
<circle cx="576.6" cy="1969.9" r="8.9" fill="#E0651A"/>
<path d="M220.4 2167.6 L218.9 2177.9 A8.9 8.9 0 0 1 221.9 2160.3 Z" fill="#A5460F" opacity=".78"/>
<path d="M259 2079.4 L266.7 2076.5 A8.9 8.9 0 0 1 251.3 2085.3 Z" fill="#A5460F" opacity=".78"/>
<path d="M313 2027.5 L321.4 2026 A8.9 8.9 0 0 1 304.6 2032 Z" fill="#A5460F" opacity=".78"/>
<path d="M470.7 1977.4 L479.1 1981.9 A8.9 8.9 0 1 1 469.2 1970.1 Z" fill="#A5460F" opacity=".78"/>
<path d="M531.6 1984.2 L531.6 1994.6 A8.9 8.9 0 0 1 531.6 1976.8 Z" fill="#A5460F" opacity=".78"/>
<path d="M576.6 1968.4 L584.7 1973.7 A8.9 8.9 0 0 1 573.6 1978.3 Z" fill="#A5460F" opacity=".78"/>
<rect x="1712.3" y="1916.5" width="4.6" height="573.5" fill="#9c9c9c"/>
<rect x="75" y="2294.8" width="1697" height="3.8" fill="#9c9c9c"/>
<rect x="74.3" y="2485.8" width="1642.6" height="4.2" fill="#9c9c9c"/>
<path d="M1716.5 1927.7 l8.5 3.6 l-8.5 3.6z" fill="#9c9c9c"/>
<path d="M1716.5 1983 l8.5 3.6 l-8.5 3.6z" fill="#9c9c9c"/>
<path d="M1716.5 2038.7 l8.5 3.6 l-8.5 3.6z" fill="#9c9c9c"/>
<path d="M1716.5 2094 l8.5 3.6 l-8.5 3.6z" fill="#9c9c9c"/>
<path d="M1716.5 2148 l8.5 3.6 l-8.5 3.6z" fill="#9c9c9c"/>
<path d="M1716.5 2203.3 l8.5 3.6 l-8.5 3.6z" fill="#9c9c9c"/>
<path d="M1716.5 2258.1 l8.5 3.6 l-8.5 3.6z" fill="#9c9c9c"/>
<path d="M1716.5 2352.7 l8.5 3.6 l-8.5 3.6z" fill="#9c9c9c"/>
<path d="M1716.5 2409.3 l8.5 3.6 l-8.5 3.6z" fill="#9c9c9c"/>
<path d="M1716.5 2470.1 l8.5 3.6 l-8.5 3.6z" fill="#9c9c9c"/>
<text transform="translate(1727,1943) scale(0.72,1)" font-size="36.5" fill="#9a9a9a" stroke="#9a9a9a" stroke-width="0.6" text-anchor="start" font-weight="400" letter-spacing="0">6.00</text>
<text transform="translate(1727,1998) scale(0.72,1)" font-size="36.5" fill="#9a9a9a" stroke="#9a9a9a" stroke-width="0.6" text-anchor="start" font-weight="400" letter-spacing="0">5.00</text>
<text transform="translate(1727,2053.6) scale(0.72,1)" font-size="36.5" fill="#9a9a9a" stroke="#9a9a9a" stroke-width="0.6" text-anchor="start" font-weight="400" letter-spacing="0">4.00</text>
<text transform="translate(1727,2108.2) scale(0.72,1)" font-size="36.5" fill="#9a9a9a" stroke="#9a9a9a" stroke-width="0.6" text-anchor="start" font-weight="400" letter-spacing="0">3.00</text>
<text transform="translate(1727,2218) scale(0.72,1)" font-size="36.5" fill="#9a9a9a" stroke="#9a9a9a" stroke-width="0.6" text-anchor="start" font-weight="400" letter-spacing="0">1.00</text>
<text transform="translate(1727,2272.5) scale(0.72,1)" font-size="36.5" fill="#9a9a9a" stroke="#9a9a9a" stroke-width="0.6" text-anchor="start" font-weight="400" letter-spacing="0">0.00</text>
<text transform="translate(1727,2370) scale(0.72,1)" font-size="36.5" fill="#9a9a9a" stroke="#9a9a9a" stroke-width="0.6" text-anchor="start" font-weight="400" letter-spacing="0">4.00</text>
<text transform="translate(1727,2484.6) scale(0.72,1)" font-size="36.5" fill="#9a9a9a" stroke="#9a9a9a" stroke-width="0.6" text-anchor="start" font-weight="400" letter-spacing="0">0.00</text>
<path fill="#8B8B8F" d="M1736 2112.1 H1813 V2149.4 H1736 L1725 2130.7 Z"/><rect x="1716.9" y="2129.2" width="8.5" height="3" fill="#335F95"/>
<text transform="translate(1746.5,2145) scale(0.735,1)" font-size="36.5" fill="#fff" stroke="#fff" stroke-width="0.45" text-anchor="start" font-weight="400" letter-spacing="0">2.40</text>
<path fill="#335F95" d="M1736 2383.7 H1813 V2421.4 H1736 L1723 2402.5 Z"/><rect x="1716.9" y="2401" width="7" height="3" fill="#8a8a8a"/>
<text transform="translate(1746.5,2416.3) scale(0.735,1)" font-size="36.5" fill="#fff" stroke="#fff" stroke-width="0.45" text-anchor="start" font-weight="400" letter-spacing="0">2.42</text>
<g stroke="#bdbdbd" stroke-width="1.8" fill="none">
<path d="M143.7 2490 V2529.5"/>
<path d="M210.6 2490 V2529.5"/>
<path d="M257.3 2490 V2529.5"/>
<path d="M347.3 2490 V2529.5"/>
<path d="M451.4 2490 V2529.5"/>
<path d="M532 2490 V2529.5"/>
<path d="M595.9 2490 V2529.5"/>
<path d="M696.5 2490 V2529.5"/>
<path d="M802.3 2490 V2529.5"/>
<path d="M916.3 2490 V2529.5"/>
<path d="M1031.1 2490 V2529.5"/>
<path d="M1136.6 2490 V2529.5"/>
<path d="M1233.2 2490 V2529.5"/>
<path d="M1329.9 2490 V2529.5"/>
<path d="M1427.1 2490 V2529.5"/>
<path d="M1524.9 2490 V2529.5"/>
<path d="M1620.9 2490 V2529.5"/>
</g>
<text transform="translate(107.7,2535.8) scale(0.61,1)" font-size="41.5" fill="#939393" stroke="#939393" stroke-width="0.3" text-anchor="middle" font-weight="400" letter-spacing="0">‘02</text>
<text transform="translate(175,2535.8) scale(0.61,1)" font-size="41.5" fill="#939393" stroke="#939393" stroke-width="0.3" text-anchor="middle" font-weight="400" letter-spacing="0">‘03</text>
<text transform="translate(230.7,2535.8) scale(0.61,1)" font-size="41.5" fill="#939393" stroke="#939393" stroke-width="0.3" text-anchor="middle" font-weight="400" letter-spacing="0">‘04</text>
<text transform="translate(299.3,2535.8) scale(0.61,1)" font-size="41.5" fill="#939393" stroke="#939393" stroke-width="0.3" text-anchor="middle" font-weight="400" letter-spacing="0">‘05</text>
<text transform="translate(394.9,2535.8) scale(0.61,1)" font-size="41.5" fill="#939393" stroke="#939393" stroke-width="0.3" text-anchor="middle" font-weight="400" letter-spacing="0">‘06</text>
<text transform="translate(488.7,2535.8) scale(0.61,1)" font-size="41.5" fill="#939393" stroke="#939393" stroke-width="0.3" text-anchor="middle" font-weight="400" letter-spacing="0">‘07</text>
<text transform="translate(562,2535.8) scale(0.61,1)" font-size="41.5" fill="#939393" stroke="#939393" stroke-width="0.3" text-anchor="middle" font-weight="400" letter-spacing="0">‘08</text>
<text transform="translate(642.1,2535.8) scale(0.61,1)" font-size="41.5" fill="#939393" stroke="#939393" stroke-width="0.3" text-anchor="middle" font-weight="400" letter-spacing="0">‘09</text>
<text transform="translate(745.7,2535.8) scale(0.61,1)" font-size="41.5" fill="#939393" stroke="#939393" stroke-width="0.3" text-anchor="middle" font-weight="400" letter-spacing="0">‘10</text>
<text transform="translate(855,2535.8) scale(0.61,1)" font-size="41.5" fill="#939393" stroke="#939393" stroke-width="0.3" text-anchor="middle" font-weight="400" letter-spacing="0">‘11</text>
<text transform="translate(970.7,2535.8) scale(0.61,1)" font-size="41.5" fill="#939393" stroke="#939393" stroke-width="0.3" text-anchor="middle" font-weight="400" letter-spacing="0">‘12</text>
<text transform="translate(1080.9,2535.8) scale(0.61,1)" font-size="41.5" fill="#939393" stroke="#939393" stroke-width="0.3" text-anchor="middle" font-weight="400" letter-spacing="0">‘13</text>
<text transform="translate(1183.7,2535.8) scale(0.61,1)" font-size="41.5" fill="#939393" stroke="#939393" stroke-width="0.3" text-anchor="middle" font-weight="400" letter-spacing="0">‘14</text>
<text transform="translate(1277.5,2535.8) scale(0.61,1)" font-size="41.5" fill="#939393" stroke="#939393" stroke-width="0.3" text-anchor="middle" font-weight="400" letter-spacing="0">‘15</text>
<text transform="translate(1374.9,2535.8) scale(0.61,1)" font-size="41.5" fill="#939393" stroke="#939393" stroke-width="0.3" text-anchor="middle" font-weight="400" letter-spacing="0">‘16</text>
<text transform="translate(1472.1,2535.8) scale(0.61,1)" font-size="41.5" fill="#939393" stroke="#939393" stroke-width="0.3" text-anchor="middle" font-weight="400" letter-spacing="0">‘17</text>
<text transform="translate(1569.9,2535.8) scale(0.61,1)" font-size="41.5" fill="#939393" stroke="#939393" stroke-width="0.3" text-anchor="middle" font-weight="400" letter-spacing="0">‘18</text>
<text transform="translate(1664.1,2535.8) scale(0.61,1)" font-size="41.5" fill="#939393" stroke="#939393" stroke-width="0.3" text-anchor="middle" font-weight="400" letter-spacing="0">‘19</text>
<path d="M86.4 2524.3 H65.7 V2609.1 H169 M86.4 2516.4 V2532" stroke="#8a8a8a" stroke-width="2.7" fill="none"/><path d="M166.8 2609.1 L182.9 2598.8 V2619.6 Z" fill="#8a8a8a"/>
<rect x="1319.9" y="2635" width="33.3" height="33.3" fill="#979797"/><rect x="856.4" y="2635" width="32.8" height="33.3" fill="#335F95"/>
<circle cx="934.7" cy="1879.4" r="9.4" fill="#D8601A"/>
<text x="508.2" y="1889.9" font-size="36.5" fill="#4a4a4a" text-anchor="middle" direction="rtl" textLength="809" lengthAdjust="spacingAndGlyphs">عدد مرات تداول سايبور الـ 12 شهرا دون نظيره لـ 3 أشهر</text>
<text x="254.3" y="2616.4" font-size="39" fill="#828282" text-anchor="middle" direction="rtl" textLength="113" lengthAdjust="spacingAndGlyphs">الأعوام</text>
<text x="1128.7" y="2666.9" font-size="41" fill="#4a4a4a" text-anchor="middle" direction="rtl" textLength="362" lengthAdjust="spacingAndGlyphs">السايبور لأجل 12 شهرا</text>
<text x="680" y="2666.9" font-size="40" fill="#4a4a4a" text-anchor="middle" direction="rtl" textLength="339" lengthAdjust="spacingAndGlyphs">السايبور لأجل 3 أشهر</text>
</g>
<g id="footer">
<rect x="0" y="2754" width="1890" height="199" fill="#1B3D6F"/>
<g fill="none" stroke="#fff" stroke-width="1.7"><circle cx="168" cy="2830.1" r="21.3"/><circle cx="226.8" cy="2830.1" r="21.3"/><circle cx="285.6" cy="2830.1" r="21.3"/><circle cx="1663" cy="2830.2" r="21"/></g>
<g fill="none" stroke="#fff" stroke-width="1.5"><rect x="157.2" y="2819.3" width="21.6" height="21.6" rx="4.5"/><circle cx="168" cy="2830.1" r="6.5" stroke-width="1.7"/></g><circle cx="174.8" cy="2823.2" r="1.3" fill="#fff"/>
<path fill="#fff" d="M228.9 2841.5 v-10.2 h3.4 l.5 -4 h-3.9 v-2.5 c0 -1.2 .3 -1.9 2 -1.9 h2.1 v-3.6 c-.4 0 -1.600 -.15 -3.1 -.15 c-3 0 -5.100 1.8 -5.100 5.200 v2.900 h-3.400 v4 h3.400 v10.200 z"/>
<path fill="#fff" transform="translate(274.3,2820.5) scale(0.94)" d="M23.6 3.6c-.85.4-1.760.63-2.720.75.980-.59 1.730-1.520 2.080-2.630-.92.540-1.930.940-3.010 1.150a4.740 4.740 0 0 0-8.070 4.320C7.950 7 4.460 5.100 2.120 2.250a4.740 4.740 0 0 0 1.470 6.320c-.78-.020-1.510-.240-2.150-.590v.060c0 2.300 1.630 4.210 3.800 4.640-.4.110-.82.170-1.250.170-.31 0-.6-.030-.89-.090.6 1.880 2.350 3.250 4.420 3.290a9.500 9.500 0 0 1-7.010 1.960 13.400 13.400 0 0 0 7.260 2.130c8.710 0 13.470-7.210 13.470-13.470l-.020-.61c.93-.66 1.730-1.490 2.370-2.440z"/>
<g fill="none" stroke="#fff" stroke-width="1.6"><circle cx="1663" cy="2830.2" r="10.6"/><path d="M1656.500 2821.800 c5 4.500 8.500 10.500 9.800 18.500 M1652.600 2829.200 c7 .8 14.500 -1.500 18.300 -6.300 M1656.200 2838.200 c3 -5.500 9.500 -8.800 17.200 -7.300"/></g>
<text x="225.7" y="2899.5" font-size="28.2" fill="#fff" stroke="#fff" stroke-width=".5" text-anchor="middle" letter-spacing="1.75">ALEQTISADIAH</text>
<text x="1662.8" y="2898.7" font-size="26.8" fill="#fff" stroke="#fff" stroke-width=".4" text-anchor="middle" letter-spacing="3.3">WWW.ALEQT.COM</text>
<text x="944.8" y="2869.8" font-size="64" font-weight="700" fill="#fff" text-anchor="middle" direction="rtl" textLength="254" lengthAdjust="spacingAndGlyphs">الاقتصادية</text>
</g>
</svg></body></html>
